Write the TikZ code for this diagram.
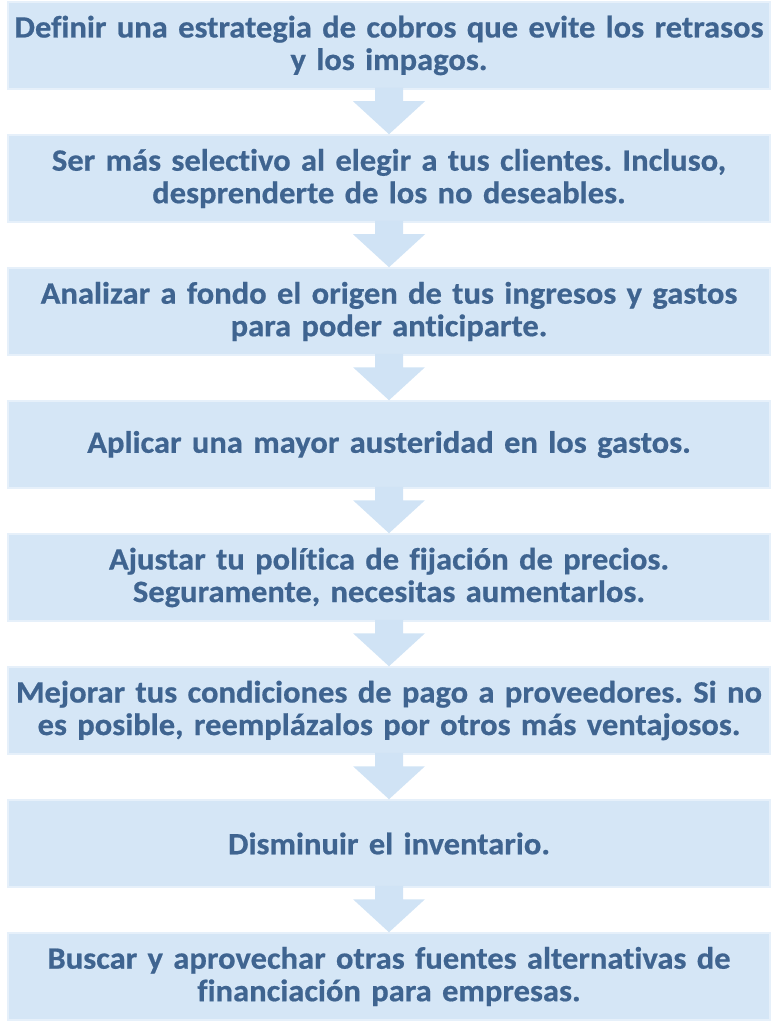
\documentclass[tikz,border=0pt]{standalone}
\usepackage{fontspec}
\setmainfont{Carlito}[FakeStretch=1.05, FakeBold=0.6, Ligatures=NoCommon]
\usetikzlibrary{calc}
\definecolor{boxblue}{HTML}{D5E6F6}
\definecolor{boxedge}{HTML}{E6F0FA}
\definecolor{arrowblue}{HTML}{D0E3F5}
\definecolor{textblue}{HTML}{3F6490}
\tikzset{
	stepbox/.style={fill=boxblue, draw=boxedge, line width=1.5pt, minimum width=762pt, minimum height=87pt,
		text width=760pt, align=center, inner sep=0pt, text=textblue, font=\fontsize{31}{32.5}\selectfont\bfseries}
}
\frenchspacing
\begin{document}
\begin{tikzpicture}[x=1pt,y=1pt]
		\useasboundingbox (0,0) rectangle (780,-1024);
		\node[stepbox] (b1) at (389,-45.5) {Definir una estrategia de cobros que evite los retrasos\\y los impagos.};
		\node[stepbox] (b2) at (389,-178.5) {Ser más selectivo al elegir a tus clientes. Incluso,\\desprenderte de los no deseables.};
		\node[stepbox] (b3) at (389,-311.5) {Analizar a fondo el origen de tus ingresos y gastos\\para poder anticiparte.};
		\node[stepbox] (b4) at (389,-444.5) {Aplicar una mayor austeridad en los gastos.};
		\node[stepbox] (b5) at (389,-577.5) {Ajustar tu política de fijación de precios.\\Seguramente, necesitas aumentarlos.};
		\node[stepbox] (b6) at (389,-710.5) {Mejorar tus condiciones de pago a proveedores. Si no\\es posible, reemplázalos por otros más ventajosos.};
		\node[stepbox] (b7) at (389,-843.5) {Disminuir el inventario.};
		\node[stepbox] (b8) at (389,-976.5) {Buscar y aprovechar otras fuentes alternativas de\\financiación para empresas.};
		% block arrows between the boxes
		\foreach \a/\b in {b1/b2,b2/b3,b3/b4,b4/b5,b5/b6,b6/b7,b7/b8}
			\fill[arrowblue] ($(\a.south)+(-14,2)$) -- ($(\b.north)+(-14,33)$) -- ($(\b.north)+(-36,33)$) -- (\b.north)
				-- ($(\b.north)+(36,33)$) -- ($(\b.north)+(14,33)$) -- ($(\a.south)+(14,2)$) -- cycle;
	\end{tikzpicture}
\end{document}
